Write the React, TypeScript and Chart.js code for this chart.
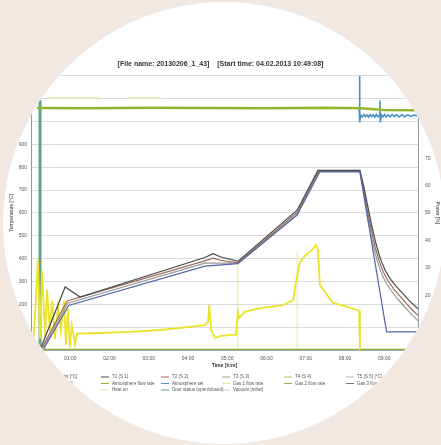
import React, { useEffect, useRef } from "react";
import { Chart, registerables } from "chart.js";

Chart.register(...registerables);
Chart.defaults.font.family = '"Liberation Sans", Arial, sans-serif';

// ---------- text ----------
const titleText = "[File name: 20130206_1_43]    [Start time: 04.02.2013 10:49:08]";
const timeTickLabels = ["", "01:00", "02:00", "03:00", "04:00", "05:00", "06:00", "07:00", "08:00", "09:00"];
const xTitle = "Time [h:m]";
const yLeftTitle = "Temperature [°C]";
const yRightTitle = "Power [%]";

// ---------- temperature series (hours, °C) ----------
const setpointHours = [0.32, 0.96, 4.43, 5.27, 6.78, 7.36, 8.38, 9.06, 9.86];
const setpointTemp = [5, 195, 367, 378, 590, 780, 780, 79, 79];

const t1Hours = [0.23, 0.87, 1.25, 4.43, 4.64, 4.82, 5.27, 6.78, 7.31, 8.38, 8.48, 8.58, 8.68, 8.79, 8.90, 9.02, 9.15, 9.30, 9.46, 9.64, 9.86];
const t1Temp = [0, 276, 232, 405, 422, 408, 388, 612, 786, 786, 715, 630, 545, 465, 400, 350, 312, 280, 250, 215, 180];

const t2Hours = [0.28, 0.92, 4.43, 4.64, 4.82, 5.27, 6.78, 7.33, 8.38, 8.47, 8.56, 8.66, 8.76, 8.87, 8.98, 9.10, 9.24, 9.40, 9.56, 9.72, 9.86];
const t2Temp = [10, 215, 390, 402, 393, 382, 602, 784, 784, 705, 620, 535, 455, 390, 340, 302, 268, 236, 204, 174, 152];

const t3Hours = [0.3, 0.94, 4.43, 5.27, 6.78, 7.35, 8.38, 8.46, 8.54, 8.63, 8.73, 8.83, 8.94, 9.06, 9.20, 9.36, 9.54, 9.70, 9.86];
const t3Temp = [8, 205, 380, 380, 595, 782, 782, 700, 615, 530, 450, 385, 330, 290, 255, 220, 185, 155, 128];

// ---------- percent series (hours, %) ----------
const powerHours = [0.05, 0.18, 0.23, 0.28, 0.36, 0.41, 0.48, 0.54, 0.61, 0.69, 0.76, 0.84, 0.89, 0.94, 0.99, 1.04, 1.12, 1.17, 1.76, 2.52, 3.29, 4.05, 4.43, 4.51, 4.54, 4.59, 4.69, 4.82, 5.07, 5.22, 5.27, 5.30, 5.45, 5.83, 6.42, 6.68, 6.75, 6.85, 6.98, 7.16, 7.26, 7.31, 7.36, 7.49, 7.69, 8.0, 8.31, 8.36, 8.38];
const powerValues = [0, 33, 4, 29, 5, 22, 7, 18, 4, 16, 7, 18, 2, 15, 1, 9, 2, 6, 6.2, 6.6, 7.3, 8.4, 9.1, 10.2, 16.4, 7.3, 4.4, 5.1, 5.5, 5.5, 13.9, 11.7, 13.9, 15.3, 16.4, 18.2, 24.8, 32, 34.3, 36.5, 38.3, 36.5, 23.7, 21.2, 17.2, 16, 14.6, 14, 0];

const flowHours = [0.15, 1.5, 3.0, 4.5, 6.0, 7.5, 8.38, 9.0, 9.86];
const flowValues = [88.3, 88.2, 88.4, 88.3, 88.2, 88.4, 88.2, 87.6, 87.5];

const atmoHours = [8.36, 8.37, 8.38, 8.40, 8.44, 8.48, 8.52, 8.56, 8.60, 8.64, 8.68, 8.72, 8.76, 8.80, 8.84, 8.88, 8.89, 8.90, 8.93, 8.97, 9.01, 9.05, 9.10, 9.15, 9.20, 9.26, 9.32, 9.38, 9.45, 9.52, 9.60, 9.68, 9.76, 9.86];
const atmoValues = [88, 100, 83, 85.6, 85.0, 85.9, 85.1, 85.8, 85.0, 85.9, 85.2, 85.8, 85.0, 85.9, 85.1, 85.7, 91, 83, 85.8, 85.1, 85.9, 85.0, 85.8, 85.1, 85.9, 85.2, 85.8, 85.0, 85.9, 85.1, 85.8, 85.2, 85.7, 85.4];

const gas1Hours = [0.4, 1.75, null, 2.5, 3.3];
const gas1Values = [92, 92, null, 92, 92];

const gas2Hours = [0, 9.86];
const gas2Values = [0, 0];

const markerHours = [5.27, 5.27, null, 6.78, 6.78, null, 8.38, 8.38];
const markerValues = [0, 32, null, 0, 36, null, 0, 15];

const doorHours = [0.23, 0.23];
const doorValues = [0, 1095];

// ---------- legend order ----------
const legendLabels = [
  "Setpoint [°C]", "T1 (S 1)", "T2 (S 2)", "T3 (S 3)", "T4 (S 4)", "T5 (S 5) [°C]",
  "Power [%]", "Atmosphere flow rate", "Atmosphere set", "Gas 1 flow rate", "Gas 2 flow rate", "Gas 3 flow",
  "Heat on", "Door status (open/closed)", "Vacuum [mbar]",
];

function pts(xs: (number | null)[], ys: (number | null)[]) {
  return xs.map((x, i) => ({ x: x as number, y: ys[i] as number }));
}

const photoFrame = {
  id: "photoFrame",
  beforeDraw(chart: any) {
    const { ctx, width, height } = chart;
    ctx.save();
    ctx.fillStyle = "#f1e9e1";
    ctx.fillRect(0, 0, width, height);
    ctx.beginPath();
    ctx.arc(224, 223, 221, 0, Math.PI * 2);
    ctx.fillStyle = "#ffffff";
    ctx.fill();
    ctx.clip();
  },
  afterDraw(chart: any) {
    const { ctx } = chart;
    const colX = [41, 101, 161, 222, 284, 346];
    const rowY = [377, 383.5, 390];
    ctx.save();
    ctx.font = '4.5px "Liberation Sans", Arial, sans-serif';
    ctx.textBaseline = "middle";
    ctx.textAlign = "left";
    chart.data.datasets.forEach((ds: any, i: number) => {
      let row: number, col: number;
      if (i < 12) {
        row = Math.floor(i / 6);
        col = i % 6;
      } else {
        row = 2;
        col = i - 12 + 1;
      }
      const x = colX[col];
      const y = rowY[row];
      ctx.strokeStyle = ds.borderColor;
      ctx.lineWidth = 1;
      ctx.beginPath();
      ctx.moveTo(x, y);
      ctx.lineTo(x + 8, y);
      ctx.stroke();
      ctx.fillStyle = "#555";
      ctx.fillText(ds.label, x + 11, y);
    });
    ctx.restore();
    ctx.restore();
  },
};

export default function App() {
  const ref = useRef<HTMLCanvasElement | null>(null);
  useEffect(() => {
    if (!ref.current) return;
    const base = { pointRadius: 0, fill: false, spanGaps: false, tension: 0 };
    const datasets: any[] = [
      { ...base, label: legendLabels[0], data: pts(setpointHours, setpointTemp), yAxisID: "y", borderColor: "#5565a8", borderWidth: 1.2 },
      { ...base, label: legendLabels[1], data: pts(t1Hours, t1Temp), yAxisID: "y", borderColor: "#4a4a4a", borderWidth: 1.2 },
      { ...base, label: legendLabels[2], data: pts(t2Hours, t2Temp), yAxisID: "y", borderColor: "#9b6a5c", borderWidth: 1.2 },
      { ...base, label: legendLabels[3], data: pts(t3Hours, t3Temp), yAxisID: "y", borderColor: "#9a9a9a", borderWidth: 1.2 },
      { ...base, label: legendLabels[4], data: [], yAxisID: "y", borderColor: "#c8b070", borderWidth: 1 },
      { ...base, label: legendLabels[5], data: [], yAxisID: "y", borderColor: "#b0b0b0", borderWidth: 1 },
      { ...base, label: legendLabels[6], data: pts(powerHours, powerValues), yAxisID: "y1", borderColor: "#ebe32a", borderWidth: 1.8 },
      { ...base, label: legendLabels[7], data: pts(flowHours, flowValues), yAxisID: "y1", borderColor: "#93b62a", borderWidth: 2.5 },
      { ...base, label: legendLabels[8], data: pts(atmoHours, atmoValues), yAxisID: "y1", borderColor: "#4a92c6", borderWidth: 1.6 },
      { ...base, label: legendLabels[9], data: pts(gas1Hours, gas1Values), yAxisID: "y1", borderColor: "#e4ea90", borderWidth: 1 },
      { ...base, label: legendLabels[10], data: pts(gas2Hours, gas2Values), yAxisID: "y1", borderColor: "#8ab33a", borderWidth: 2.5 },
      { ...base, label: legendLabels[11], data: [], yAxisID: "y1", borderColor: "#777777", borderWidth: 1 },
      { ...base, label: legendLabels[12], data: pts(markerHours, markerValues), yAxisID: "y1", borderColor: "rgba(225,228,120,0.8)", borderWidth: 1 },
      { ...base, label: legendLabels[13], data: pts(doorHours, doorValues), yAxisID: "y", borderColor: "#62a384", borderWidth: 3 },
      { ...base, label: legendLabels[14], data: [], yAxisID: "y", borderColor: "#cccccc", borderWidth: 1 },
    ];
    const tickFont = { size: 5 };
    const chart = new Chart(ref.current, {
      type: "line",
      data: { datasets },
      options: {
        animation: false,
        responsive: true,
        maintainAspectRatio: false,
        layout: { padding: { left: 0, right: 0, top: 0, bottom: 76 } },
        plugins: {
          legend: { display: false },
          tooltip: { enabled: false },
          title: {
            display: true,
            text: titleText,
            color: "#333",
            font: { size: 7, weight: "bold" },
            padding: { top: 59.5, bottom: 8 },
          },
        },
        scales: {
          x: {
            type: "linear",
            min: 0,
            max: 9.86,
            ticks: {
              stepSize: 1,
              includeBounds: false,
              autoSkip: false,
              maxRotation: 0,
              padding: 6,
              font: tickFont,
              color: "#555",
              callback: (v: any) => timeTickLabels[Math.round(Number(v))] ?? "",
            },
            grid: { display: false, drawTicks: false },
            border: { display: true, color: "#aaa" },
            title: { display: true, text: xTitle, color: "#333", font: { size: 5, weight: "bold" }, padding: 0 },
            afterFit: (s: any) => { s.height = 19; },
          },
          y: {
            position: "left",
            min: 0,
            max: 1200,
            ticks: { stepSize: 100, padding: 4, font: tickFont, color: "#555" },
            grid: { color: "#d2d2d2", lineWidth: 0.8, drawTicks: false },
            border: { display: true, color: "#999" },
            title: { display: true, text: yLeftTitle, color: "#333", font: { size: 5 }, padding: { top: 8.5, bottom: 0 } },
            afterFit: (s: any) => { s.width = 31; },
          },
          y1: {
            position: "right",
            min: 0,
            max: 100,
            ticks: { stepSize: 10, padding: 7, font: tickFont, color: "#555" },
            grid: { display: false, drawTicks: false },
            border: { display: true, color: "#999" },
            title: { display: true, text: yRightTitle, color: "#333", font: { size: 5 }, padding: { top: 1, bottom: 0 } },
            afterFit: (s: any) => { s.width = 23; },
          },
        },
      } as any,
      plugins: [photoFrame as any],
    });
    return () => chart.destroy();
  }, []);
  return (
    <div style={{ position: "absolute", left: 0, top: 0, width: 441, height: 445 }}>
      <canvas ref={ref} />
    </div>
  );
}
